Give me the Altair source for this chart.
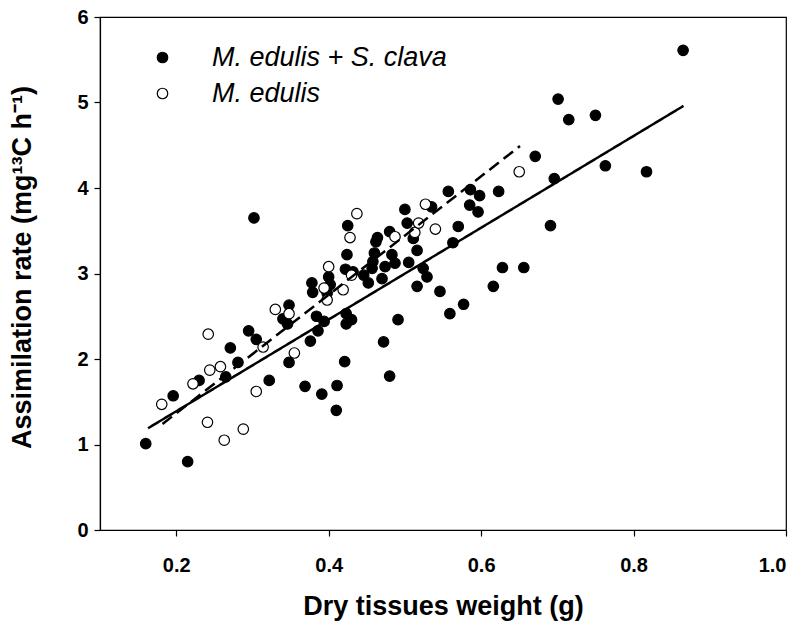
import altair as alt
import pandas as pd

G1 = "M. edulis + S. clava"
G2 = "M. edulis"

# M. edulis + S. clava (filled circles)
filled_x = [0.160, 0.215, 0.196, 0.230, 0.265, 0.271, 0.281, 0.295, 0.305, 0.302,
            0.322, 0.340, 0.346, 0.348, 0.348, 0.369, 0.376, 0.386, 0.384, 0.394,
            0.391, 0.378, 0.379, 0.398, 0.400, 0.402, 0.411, 0.410, 0.421, 0.423,
            0.430, 0.423, 0.422, 0.432, 0.424, 0.425, 0.446, 0.452, 0.457, 0.458,
            0.460, 0.462, 0.464, 0.470, 0.474, 0.472, 0.480, 0.480, 0.483, 0.487,
            0.491, 0.500, 0.503, 0.505, 0.511, 0.516, 0.516, 0.524, 0.529, 0.535,
            0.546, 0.557, 0.559, 0.563, 0.570, 0.577, 0.586, 0.585, 0.598, 0.596,
            0.616, 0.623, 0.628, 0.656, 0.671, 0.691, 0.696, 0.701, 0.715, 0.750,
            0.763, 0.817, 0.865]
filled_y = [1.01, 0.80, 1.57, 1.75, 1.79, 2.13, 1.96, 2.33, 2.23, 3.65,
            1.75, 2.47, 2.41, 2.63, 1.96, 1.68, 2.21, 2.33, 2.50, 2.44,
            1.59, 2.89, 2.78, 2.77, 2.96, 2.87, 1.69, 1.40, 1.97, 2.53,
            2.46, 2.41, 3.05, 3.02, 3.22, 3.56, 2.98, 2.89, 3.06, 3.14,
            3.24, 3.37, 3.42, 2.94, 3.08, 2.20, 1.80, 3.49, 3.22, 3.12,
            2.46, 3.75, 3.59, 3.13, 3.41, 3.27, 2.85, 3.06, 2.96, 3.78,
            2.79, 3.96, 2.53, 3.36, 3.55, 2.64, 3.98, 3.80, 3.91, 3.72,
            2.85, 3.96, 3.07, 3.07, 4.37, 3.56, 4.11, 5.04, 4.80, 4.85,
            4.26, 4.19, 5.61]

# M. edulis (open circles)
open_x = [0.181, 0.222, 0.242, 0.244, 0.258, 0.241, 0.263, 0.288, 0.305, 0.314,
          0.330, 0.348, 0.355, 0.394, 0.398, 0.400, 0.419, 0.430, 0.428, 0.437,
          0.487, 0.513, 0.518, 0.527, 0.540, 0.650]
open_y = [1.47, 1.71, 2.29, 1.87, 1.91, 1.26, 1.05, 1.18, 1.62, 2.14,
          2.58, 2.53, 2.07, 2.83, 2.69, 3.08, 2.81, 2.98, 3.42, 3.70,
          3.43, 3.48, 3.59, 3.81, 3.52, 4.19]

# Regression lines (end points)
fit_all_x = [0.163, 0.8655]
fit_all_y = [1.19, 4.96]
fit_edulis_x = [0.182, 0.651]
fit_edulis_y = [1.24, 4.49]

pts = pd.DataFrame({
    "x": filled_x + open_x,
    "y": filled_y + open_y,
    "group": [G1] * len(filled_x) + [G2] * len(open_x),
    "ord": list(range(len(filled_x) + len(open_x))),
})
lines = pd.DataFrame({
    "x": fit_all_x + fit_edulis_x,
    "y": fit_all_y + fit_edulis_y,
    "fit": ["all"] * 2 + ["edulis"] * 2,
})

xs = alt.Scale(domain=[0.1, 1.0], nice=False, zero=False)
ys = alt.Scale(domain=[0, 6], nice=False)

x_axis = alt.Axis(values=[0.2, 0.4, 0.6, 0.8, 1.0], format=".1f", tickSize=6,
                  labelPadding=19, titleY=76, titleBaseline="middle", titleX=343)
y_axis = alt.Axis(values=[0, 1, 2, 3, 4, 5, 6], format="d", tickSize=6,
                  labelPadding=6, titleX=-78, titleY=250, titleBaseline="middle",
                  titleAngle=270)

points = alt.Chart(pts).mark_circle(size=110, stroke="black", strokeWidth=1.2, opacity=1).encode(
    x=alt.X("x:Q", scale=xs, axis=x_axis, title="Dry tissues weight (g)"),
    y=alt.Y("y:Q", scale=ys, axis=y_axis, title="Assimilation rate (mg¹³C h⁻¹)"),
    fill=alt.Fill("group:N", scale=alt.Scale(domain=[G1, G2], range=["black", "white"]),
                  legend=alt.Legend(title=None, orient="none", legendX=49, legendY=27,
                                    padding=0, symbolType="circle", symbolSize=110,
                                    symbolStrokeColor="black", symbolStrokeWidth=1.2,
                                    labelFont="Liberation Sans", labelFontSize=27,
                                    labelFontStyle="italic", labelFontWeight="normal",
                                    labelOffset=36, rowPadding=8, labelColor="black",
                                    labelLimit=0)),
    order=alt.Order("ord:Q"),
)

fits = alt.Chart(lines).mark_line(color="black", strokeWidth=2.5).encode(
    x=alt.X("x:Q", scale=xs),
    y=alt.Y("y:Q", scale=ys),
    detail="fit:N",
    strokeDash=alt.StrokeDash("fit:N", scale=alt.Scale(domain=["all", "edulis"], range=[[1, 0], [12, 6]]),
                              legend=None),
)

chart = alt.layer(points, fits).properties(
    width=686, height=513,
    padding={"left": 100, "top": 17, "right": 20, "bottom": 99},
    autosize=alt.AutoSizeParams(type="none"),
    background="white",
).configure_view(stroke="black", strokeWidth=1.2).configure_axis(
    grid=False, domainColor="black", tickColor="black", domainWidth=1.2, tickWidth=1.2,
    labelFont="Liberation Sans", labelFontWeight="bold", labelFontSize=20, labelColor="black",
    titleFont="Liberation Sans", titleFontWeight="bold", titleFontSize=27, titleColor="black",
)

chart.save("out.html", embed_options={"renderer": "svg", "actions": False})
